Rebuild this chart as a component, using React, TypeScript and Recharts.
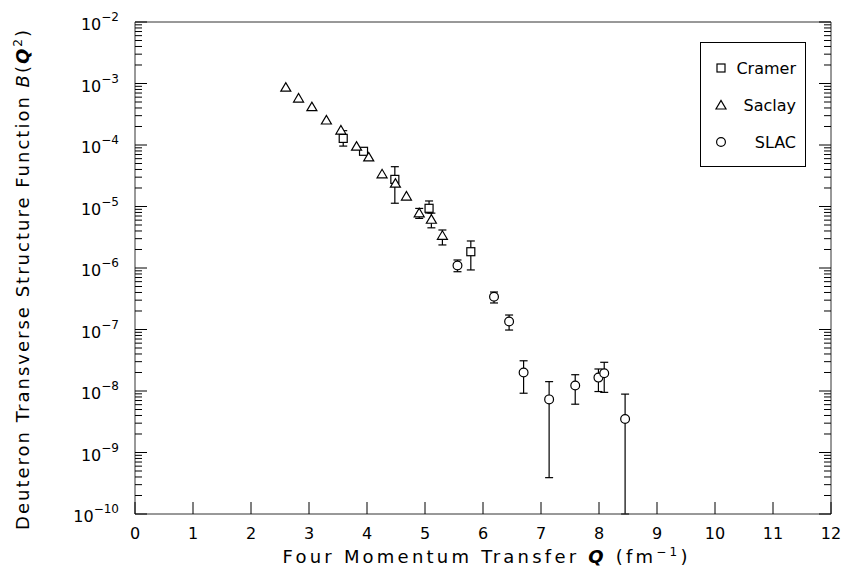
import React from "react"
import { ScatterChart, Scatter, XAxis, YAxis, ErrorBar, Legend, Label } from "recharts"

// ── Data: Q (fm^-1) and B(Q^2) with error ranges ───────────────
const cramerQ = [3.59, 3.94, 4.48, 5.07, 5.79]
const cramerB = [1.28e-4, 7.9e-5, 2.76e-5, 9.35e-6, 1.84e-6]
const cramerLo = [9.6e-5, 7.1e-5, 1.13e-5, 7.84e-6, 9.3e-7]
const cramerHi = [1.71e-4, 8.9e-5, 4.44e-5, 1.23e-5, 2.75e-6]

const saclayQ = [2.6, 2.82, 3.05, 3.3, 3.55, 3.82, 4.03, 4.26, 4.49, 4.68, 4.9, 5.11, 5.3]
const saclayB = [8.7e-4, 5.8e-4, 4.2e-4, 2.55e-4, 1.75e-4, 9.6e-5, 6.4e-5, 3.4e-5, 2.4e-5, 1.48e-5, 7.9e-6, 6.2e-6, 3.4e-6]
const saclayLo = [null, null, null, null, null, null, null, null, null, null, 6.4e-6, 4.5e-6, 2.37e-6]
const saclayHi = [null, null, null, null, null, null, null, null, null, null, 9.3e-6, 7.8e-6, 4.15e-6]

const slacQ = [5.56, 6.19, 6.45, 6.7, 7.14, 7.59, 7.99, 8.09, 8.45]
const slacB = [1.1e-6, 3.4e-7, 1.35e-7, 2.0e-8, 7.3e-9, 1.23e-8, 1.65e-8, 1.94e-8, 3.5e-9]
const slacLo = [8.7e-7, 2.7e-7, 9.8e-8, 9.2e-9, 3.9e-10, 6.1e-9, 9.8e-9, 9.5e-9, 1e-10]
const slacHi = [1.35e-6, 4.07e-7, 1.72e-7, 3.1e-8, 1.42e-8, 1.84e-8, 2.28e-8, 2.93e-8, 8.9e-9]

// ── Axis ticks ────────────────────────────────────────────────
const xTicks = [0, 1, 2, 3, 4, 5, 6, 7, 8, 9, 10, 11, 12]
const yMajor = [1e-10, 1e-9, 1e-8, 1e-7, 1e-6, 1e-5, 1e-4, 1e-3, 1e-2]
const yMantissas = [2, 3, 4, 5, 6, 7, 8, 9]
const yMinor = yMajor.slice(0, -1).flatMap((d) => yMantissas.map((m) => m * d))
const yTicks = [...yMajor, ...yMinor]

const legendOrder = ["Cramer", "Saclay", "SLAC"]

const FONT = "DejaVu Sans, sans-serif"
const INK = "#000"

function rows(q: number[], b: number[], lo: (number | null)[], hi: (number | null)[]) {
  return q.map((x, i) => ({
    q: x,
    b: b[i],
    err: lo[i] != null && hi[i] != null ? [b[i] - (lo[i] as number), (hi[i] as number) - b[i]] : undefined,
  }))
}

const cramerData = rows(cramerQ, cramerB, cramerLo, cramerHi)
const saclayData = rows(saclayQ, saclayB, saclayLo, saclayHi)
const slacData = rows(slacQ, slacB, slacLo, slacHi)

// ── Markers ───────────────────────────────────────────────────
const SquareMark = ({ cx, cy }: any) => (
  <rect x={cx - 4} y={cy - 4} width={8} height={8} fill="#fff" stroke={INK} strokeWidth={1.2} />
)
const TriangleMark = ({ cx, cy }: any) => (
  <path d={`M${cx - 5},${cy + 4} L${cx + 5},${cy + 4} L${cx},${cy - 4.5} Z`} fill="#fff" stroke={INK} strokeWidth={1.2} />
)
const CircleMark = ({ cx, cy }: any) => <circle cx={cx} cy={cy} r={4.4} fill="#fff" stroke={INK} strokeWidth={1.2} />

const MARKS: Record<string, (p: any) => React.ReactElement> = {
  Cramer: SquareMark,
  Saclay: TriangleMark,
  SLAC: CircleMark,
}

// ── Tick renderers (inside ticks on all four sides) ───────────
const majorSet = new Set(yMajor)

function BottomTick({ x, y, payload }: any) {
  return (
    <g>
      <line x1={x} y1={y} x2={x} y2={y - 12} stroke={INK} />
      <text x={x} y={y + 25} textAnchor="middle" fontSize={16} fontFamily={FONT} fill={INK}>
        {payload.value}
      </text>
    </g>
  )
}

function TopTick({ x, y }: any) {
  return <line x1={x} y1={y} x2={x} y2={y + 12} stroke={INK} />
}

function LeftTick({ x, y, payload }: any) {
  const major = majorSet.has(payload.value)
  const exp = Math.round(Math.log10(payload.value))
  return (
    <g>
      <line x1={x} y1={y} x2={x + (major ? 12 : 7)} y2={y} stroke={INK} />
      {major && (
        <text x={x - 16} y={y + 8} textAnchor="end" fontSize={16} fontFamily={FONT} fill={INK}>
          10
          <tspan dy={-9} fontSize={12}>{`\u2212${-exp}`}</tspan>
        </text>
      )}
    </g>
  )
}

function RightTick({ x, y, payload }: any) {
  const major = majorSet.has(payload.value)
  return <line x1={x} y1={y} x2={x - (major ? 12 : 7)} y2={y} stroke={INK} />
}

// ── Titles ────────────────────────────────────────────────────
function XTitle({ viewBox }: any) {
  const cx = viewBox.x + viewBox.width / 2 + 2
  return (
    <text x={cx} y={viewBox.y + 49} textAnchor="middle" fontSize={18} fontFamily={FONT} fill={INK} textLength={405}>
      Four Momentum Transfer{" "}
      <tspan fontStyle="italic" fontWeight="bold">Q</tspan> (fm
      <tspan dy={-7} fontSize={12}>{"\u22121"}</tspan>
      <tspan dy={7}>)</tspan>
    </text>
  )
}

function YTitle({ viewBox }: any) {
  const x = viewBox.x - 46
  const y = viewBox.y + viewBox.height / 2 + 12
  return (
    <text
      x={x}
      y={y}
      transform={`rotate(-90 ${x} ${y})`}
      textAnchor="middle"
      fontSize={18}
      fontFamily={FONT}
      fill={INK}
      textLength={500}
    >
      Deuteron Transverse Structure Function{" "}
      <tspan fontStyle="italic">B</tspan>(
      <tspan fontStyle="italic" fontWeight="bold">Q</tspan>
      <tspan dy={-7} fontSize={12}>2</tspan>
      <tspan dy={7}>)</tspan>
    </text>
  )
}

// ── Legend box ────────────────────────────────────────────────
function LegendBox({ payload }: any) {
  const rowsY = [25, 62, 99]
  const names = legendOrder.filter((n) => (payload || []).some((p: any) => p.value === n))
  return (
    <svg width={106} height={125} style={{ display: "block" }}>
      {names.map((name, i) => {
        const Mark = MARKS[name]
        return (
          <g key={name}>
            <Mark cx={20} cy={rowsY[i]} />
            <text x={95} y={rowsY[i] + 6} textAnchor="end" fontSize={16} fontFamily={FONT} fill={INK}>
              {name}
            </text>
          </g>
        )
      })}
    </svg>
  )
}

export default function App() {
  return (
    <div style={{ width: 842, height: 576, background: "#fff" }}>
      <style>{"body{margin:0}"}</style>
      <ScatterChart width={842} height={576} margin={{ top: 21, right: 10, bottom: 22, left: 75 }}>
        <XAxis
          xAxisId="b"
          dataKey="q"
          type="number"
          domain={[0, 12]}
          ticks={xTicks}
          interval={0}
          allowDataOverflow
          height={40}
          tickSize={0}
          tickMargin={0}
          tickLine={false}
          tick={<BottomTick />}
          axisLine={{ stroke: "#333" }}
        >
          <Label content={<XTitle />} />
        </XAxis>
        <XAxis
          xAxisId="t"
          orientation="top"
          type="number"
          domain={[0, 12]}
          ticks={xTicks}
          interval={0}
          allowDataOverflow
          height={1}
          tickSize={0}
          tickMargin={0}
          tickLine={false}
          tick={<TopTick />}
          axisLine={{ stroke: "#333" }}
        />
        <YAxis
          yAxisId="l"
          dataKey="b"
          type="number"
          scale="log"
          domain={[1e-10, 1e-2]}
          ticks={yTicks}
          interval={0}
          allowDataOverflow
          width={60}
          tickSize={0}
          tickMargin={0}
          tickLine={false}
          tick={<LeftTick />}
          axisLine={{ stroke: "#333" }}
        >
          <Label content={<YTitle />} />
        </YAxis>
        <YAxis
          yAxisId="r"
          orientation="right"
          type="number"
          scale="log"
          domain={[1e-10, 1e-2]}
          ticks={yTicks}
          interval={0}
          allowDataOverflow
          width={1}
          tickSize={0}
          tickMargin={0}
          tickLine={false}
          tick={<RightTick />}
          axisLine={{ stroke: "#333" }}
        />
        <Legend
          layout="vertical"
          align="center"
          verticalAlign="middle"
          content={<LegendBox />}
          wrapperStyle={{
            left: 700,
            top: 42,
            width: 106,
            height: 125,
            border: "1px solid #000",
            boxSizing: "border-box",
            background: "#fff",
          }}
        />
        <Scatter name="Cramer" data={cramerData} xAxisId="b" yAxisId="l" shape={SquareMark} isAnimationActive={false}>
          <ErrorBar dataKey="err" direction="y" width={4} stroke={INK} strokeWidth={1.2} isAnimationActive={false} />
        </Scatter>
        <Scatter name="Saclay" data={saclayData} xAxisId="b" yAxisId="l" shape={TriangleMark} isAnimationActive={false}>
          <ErrorBar dataKey="err" direction="y" width={4} stroke={INK} strokeWidth={1.2} isAnimationActive={false} />
        </Scatter>
        <Scatter name="SLAC" data={slacData} xAxisId="b" yAxisId="l" shape={CircleMark} isAnimationActive={false}>
          <ErrorBar dataKey="err" direction="y" width={4} stroke={INK} strokeWidth={1.2} isAnimationActive={false} />
        </Scatter>
      </ScatterChart>
    </div>
  )
}
